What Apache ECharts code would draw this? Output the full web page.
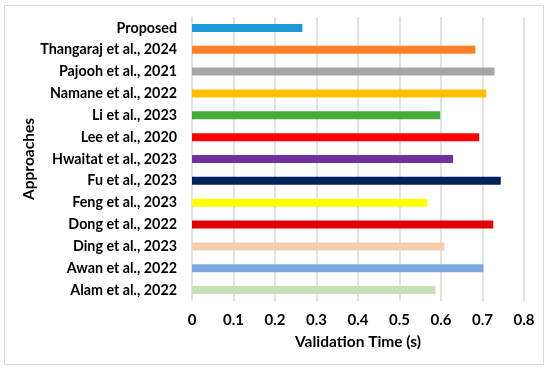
<!DOCTYPE html>
<html>
<head>
<meta charset="utf-8">
<script src="https://cdn.jsdelivr.net/npm/echarts@6/dist/echarts.min.js"></script>
<style>html,body{margin:0;padding:0;background:#fff;}#c{width:550px;height:371px;}</style>
</head>
<body>
<div id="c"></div>
<script>
const categories = ["Alam et al., 2022","Awan et al., 2022","Ding et al., 2023","Dong et al., 2022","Feng et al., 2023","Fu et al., 2023","Hwaitat et al., 2023","Lee et al., 2020","Li et al., 2023","Namane et al., 2022","Pajooh et al., 2021","Thangaraj et al., 2024","Proposed"];
const values = [0.587,0.702,0.608,0.726,0.567,0.744,0.629,0.692,0.598,0.709,0.729,0.683,0.266];
const colors = ["#C5E0B4","#7EA6E0","#F8CBAD","#E00000","#FFFF00","#002060","#7030A0","#FF0000","#43AC3A","#FFC000","#A5A5A5","#FF7F27","#1A9AD7"];
const font = "Lato";
const chart = echarts.init(document.getElementById('c'));
chart.setOption({
  animation:false,
  graphic:[{type:'rect',shape:{x:4.5,y:5.5,width:539,height:359},style:{fill:null,stroke:'#D9D9D9',lineWidth:1}}],
  grid:{left:192,right:26,top:17,bottom:70},
  xAxis:{type:'value',min:0,max:0.8,interval:0.1,
    name:'Validation Time (s)',nameLocation:'middle',nameGap:33,nameMoveOverlap:false,
    nameTextStyle:{fontFamily:font,fontWeight:'bold',fontSize:15.5,color:'#000'},
    axisLabel:{fontFamily:font,fontWeight:'bold',fontSize:15,color:'#000',margin:12},
    axisLine:{show:false},axisTick:{show:false},
    splitLine:{show:true,lineStyle:{color:'#D9D9D9',width:1.5}}},
  yAxis:{type:'category',data:categories,
    name:'Approaches',nameLocation:'middle',nameGap:155,nameRotate:90,nameMoveOverlap:false,
    nameTextStyle:{fontFamily:font,fontWeight:'bold',fontSize:15.5,color:'#000'},
    axisLabel:{fontFamily:font,fontWeight:'bold',fontSize:14.3,color:'#000',margin:15},
    axisLine:{show:false},axisTick:{show:false},splitLine:{show:false}},
  series:[{type:'bar',data:values.map((v,i)=>({value:v,itemStyle:{color:colors[i]}})),barWidth:8}]
});
</script>
</body>
</html>
